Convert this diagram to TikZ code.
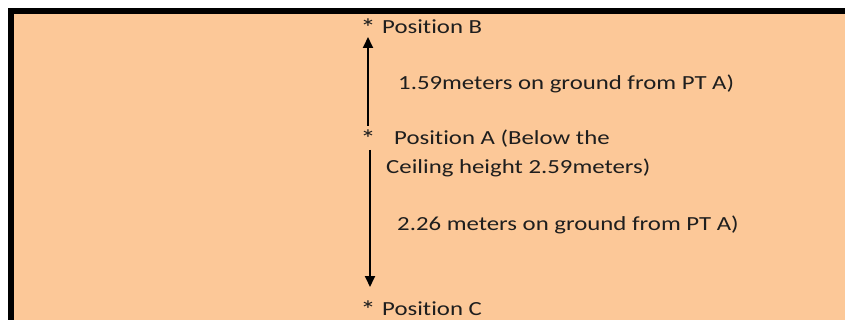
\documentclass[tikz,border=0pt]{standalone}
\usepackage{fontspec}
\setmainfont{Carlito}[FakeStretch=1.24, Ligatures=NoCommon]
\usetikzlibrary{arrows.meta}
\definecolor{peach}{RGB}{252,200,152}
\definecolor{txt}{RGB}{30,30,30}
\tikzset{
  lbl/.style={anchor=west, inner sep=0pt, text=txt, font=\fontsize{20}{24}\selectfont},
  starlbl/.style={inner sep=0pt, text=txt, font=\fontsize{25}{28}\selectfont},
  meas/.style={line width=1.8pt, -{Triangle[width=10pt,length=11pt]}}
}
\begin{document}
\begin{tikzpicture}[x=1pt,y=-1pt]
\useasboundingbox (0,0) rectangle (845,320);
\fill[white] (0,0) rectangle (845,320);
\fill[peach] (8,8) rectangle (845,320);
\draw[line width=6pt] (11,320) -- (11,11) -- (845,11);
% labels
\node[starlbl] (sB) at (368,28) {*};
\node[lbl] (tB) at (382,27) {Position B};
\node[lbl] (m1) at (398,84) {1.59meters on ground from PT A)};
\node[starlbl] (sA) at (368,139) {*};
\node[lbl] (tA1) at (394,139) {Position A (Below the};
\node[lbl] (tA2) at (386,168) {Ceiling height 2.59meters)};
\node[lbl] (m2) at (397,225) {2.26 meters on ground from PT A)};
\node[starlbl] (sC) at (368,310) {*};
\node[lbl] (tC) at (382,309) {Position C};
% arrows
\coordinate (upS) at (368,126);
\coordinate (upE) at (368,37);
\coordinate (dnS) at (370,150);
\coordinate (dnE) at (370,287);
\draw[meas] (upS) -- (upE);
\draw[meas] (dnS) -- (dnE);
\end{tikzpicture}
\end{document}
